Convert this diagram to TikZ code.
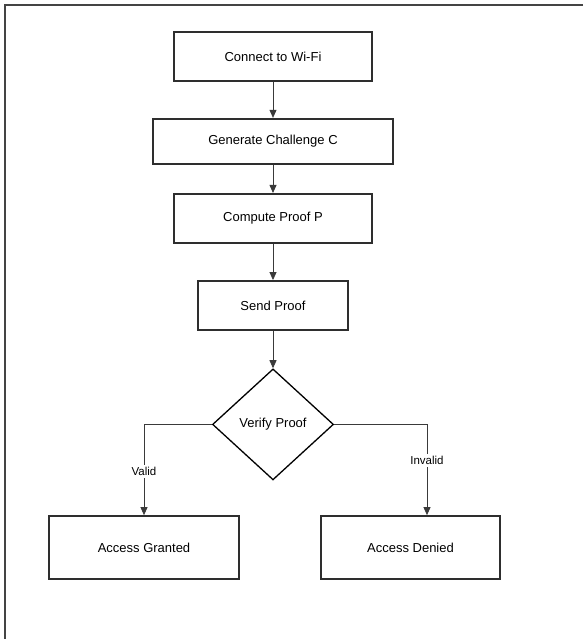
\documentclass[tikz,border=0pt]{standalone}
\usepackage{fontspec}
\setmainfont{Liberation Sans}
\usetikzlibrary{arrows.meta,positioning,shapes.geometric}
\definecolor{Ink}{HTML}{2E2E2E}
\definecolor{Wire}{HTML}{3A3A3A}
\definecolor{Frame}{HTML}{444444}
\tikzset{
  stepbox/.style={draw=Ink, line width=1.7pt, fill=white, align=center, inner sep=4pt, minimum height=49pt, font=\fontsize{13}{15}\selectfont},
  endbox/.style={stepbox, minimum height=63pt},
  decide/.style={diamond, draw=black, line width=1.3pt, fill=white, minimum width=121pt, minimum height=111pt, inner sep=0pt, font=\fontsize{13}{15}\selectfont},
  arrow/.style={-{Triangle[length=8pt, width=7pt]}, line width=0.8pt, draw=Wire},
  branch/.style={font=\fontsize{11.5}{13}\selectfont, fill=white, inner sep=2.5pt}
}

\begin{document}
\begin{tikzpicture}[x=1pt, y=1pt]
\useasboundingbox (0,0) rectangle (583,-639);
\draw[Frame, line width=2.6pt] (583,-5) -| (5,-639);
\node[stepbox, minimum width=198pt] (wifi) at (273,-56.5) {Connect to Wi-Fi};
\node[stepbox, minimum width=240pt, minimum height=45pt, below=36pt of wifi] (chal) {Generate Challenge C};
\node[stepbox, minimum width=198pt, below=28.4pt of chal] (comp) {Compute Proof P};
\node[stepbox, minimum width=150pt, below=36.4pt of comp] (send) {Send Proof};
\node[decide, below=37.5pt of send] (vp) {Verify Proof};
\node[endbox, minimum width=190pt] (grant) at (144,-547.5) {Access Granted};
\node[endbox, minimum width=179pt] (deny) at (410.5,-547.5) {Access Denied};
\foreach \a/\b in {wifi/chal,chal/comp,comp/send,send/vp} \draw[arrow] (\a) -- (\b);
\draw[arrow] (vp.west) -| node[branch, pos=0.76] {Valid} (grant.north);
\draw[arrow] (vp.east) -| node[branch, pos=0.7] {Invalid} ([xshift=16.5pt]deny.north);
\end{tikzpicture}
\end{document}
